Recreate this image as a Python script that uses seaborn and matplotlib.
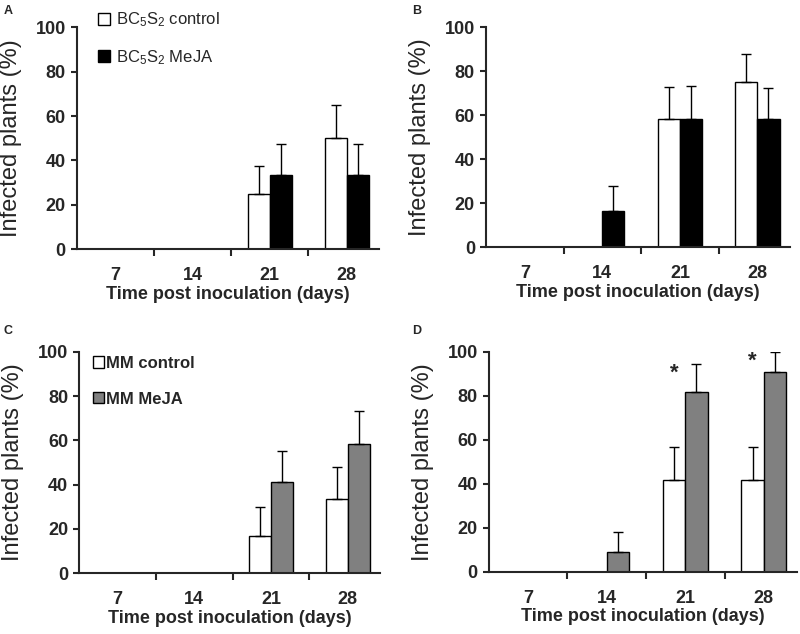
import pandas as pd
import matplotlib.pyplot as plt
import seaborn as sns
from matplotlib.patches import Patch

sns.set_style("ticks")
plt.rcParams['font.family'] = ['Liberation Sans', 'DejaVu Sans']
plt.rcParams['mathtext.fontset'] = 'custom'
plt.rcParams['mathtext.rm'] = 'Liberation Sans'
plt.rcParams['mathtext.it'] = 'Liberation Sans'

# Dias pos inoculacao
days = ['7', '14', '21', '28']

# Painel A - BC5S2
a_ctrl = [0, 0, 25.0, 50.0]
a_ctrl_err = [0, 0, 12.5, 15.0]
a_meja = [0, 0, 33.3, 33.3]
a_meja_err = [0, 0, 14.0, 14.0]

# Painel B - BC5S2
b_ctrl = [0, 0, 58.3, 75.0]
b_ctrl_err = [0, 0, 14.5, 13.0]
b_meja = [0, 16.7, 58.3, 58.3]
b_meja_err = [0, 11.0, 15.0, 14.0]

# Painel C - MM
c_ctrl = [0, 0, 16.7, 33.3]
c_ctrl_err = [0, 0, 13.0, 14.5]
c_meja = [0, 0, 41.0, 58.3]
c_meja_err = [0, 0, 14.0, 15.0]

# Painel D - MM
d_ctrl = [0, 0, 41.7, 41.7]
d_ctrl_err = [0, 0, 15.0, 15.0]
d_meja = [0, 9.1, 81.8, 90.9]
d_meja_err = [0, 9.0, 12.5, 9.0]
d_sig = ['', '', '*', '*']

bc_labels = ['BC$_5$S$_2$ control', 'BC$_5$S$_2$ MeJA']
mm_labels = ['MM control', 'MM MeJA']


def draw_panel(ax, ctrl, ctrl_err, trt, trt_err, labels, colors):
    df = pd.DataFrame({'day': days * 2,
                       'value': ctrl + trt,
                       'group': [labels[0]] * 4 + [labels[1]] * 4})
    sns.barplot(data=df, x='day', y='value', hue='group', hue_order=labels,
                palette=colors, saturation=1, edgecolor='black', linewidth=1.0,
                width=0.57, errorbar=None, legend=False, ax=ax)
    for cont, errs in zip(ax.containers, [ctrl_err, trt_err]):
        for bar, e in zip(cont, errs):
            if e > 0:
                x = bar.get_x() + bar.get_width() / 2
                ax.errorbar(x, bar.get_height(), yerr=[[0], [e]], fmt='none',
                            ecolor='black', elinewidth=1.0, capsize=3.5, capthick=1.0)
    ax.set_xlim(-0.5, 3.42)
    ax.set_ylim(0, 100)
    ax.set_yticks([0, 20, 40, 60, 80, 100])
    sns.despine(ax=ax)
    for s in ['left', 'bottom']:
        ax.spines[s].set_linewidth(1.5)
    ax.tick_params(axis='y', length=4, width=1.5, pad=4, labelsize=13)
    ax.tick_params(axis='x', which='major', length=0, pad=13, labelsize=13)
    ax.set_xticks([0.5, 1.5, 2.5], minor=True)
    ax.tick_params(axis='x', which='minor', length=5, width=1.5)
    for lab in ax.get_xticklabels() + ax.get_yticklabels():
        lab.set_fontweight('bold')
    ax.set_ylabel('Infected plants (%)', fontsize=17, labelpad=10)
    ax.set_xlabel('Time post inoculation (days)', fontsize=13,
                  fontweight='bold', labelpad=1)


fig = plt.figure(figsize=(8, 6.34), dpi=100)
ax_a = fig.add_axes([0.096, 0.607, 0.378, 0.350])
ax_b = fig.add_axes([0.6075, 0.610, 0.380, 0.347])
ax_c = fig.add_axes([0.099, 0.096, 0.376, 0.349])
ax_d = fig.add_axes([0.611, 0.098, 0.385, 0.347])

bc_colors = ['white', 'black']
mm_colors = ['white', '#808080']

draw_panel(ax_a, a_ctrl, a_ctrl_err, a_meja, a_meja_err, bc_labels, bc_colors)
draw_panel(ax_b, b_ctrl, b_ctrl_err, b_meja, b_meja_err, bc_labels, bc_colors)
draw_panel(ax_c, c_ctrl, c_ctrl_err, c_meja, c_meja_err, mm_labels, mm_colors)
draw_panel(ax_d, d_ctrl, d_ctrl_err, d_meja, d_meja_err, mm_labels, mm_colors)

# Legendas
h_bc = [Patch(facecolor=c, edgecolor='black', linewidth=1.0) for c in bc_colors]
ax_a.legend(h_bc, bc_labels, loc='upper left', bbox_to_anchor=(0.07, 1.075),
            frameon=False, fontsize=12, borderpad=0, borderaxespad=0,
            handlelength=0.7, handleheight=0.7, handletextpad=0.4,
            labelspacing=1.12)

h_mm = [Patch(facecolor=c, edgecolor='black', linewidth=1.0) for c in mm_colors]
ax_c.legend(h_mm, mm_labels, loc='upper left', bbox_to_anchor=(0.045, 0.982),
            frameon=False, borderpad=0, borderaxespad=0, handlelength=0.65,
            handleheight=0.65, handletextpad=0.15, labelspacing=1.24,
            prop={'size': 12, 'weight': 'bold'})

# Asteriscos no painel D
ctrl_bars = ax_d.containers[0]
for bar, mark, m, e in zip(ctrl_bars, d_sig, d_meja, d_meja_err):
    if mark:
        ax_d.text(bar.get_x() + bar.get_width() / 2, m + e - 4, mark,
                  ha='center', va='center', fontsize=16, fontweight='bold')

# Letras dos paineis
fig.text(0.005, 0.992, 'A', fontsize=9, fontweight='bold', va='top')
fig.text(0.515, 0.992, 'B', fontsize=9, fontweight='bold', va='top')
fig.text(0.005, 0.487, 'C', fontsize=9, fontweight='bold', va='top')
fig.text(0.515, 0.487, 'D', fontsize=9, fontweight='bold', va='top')

plt.savefig('out.png', dpi=100)
